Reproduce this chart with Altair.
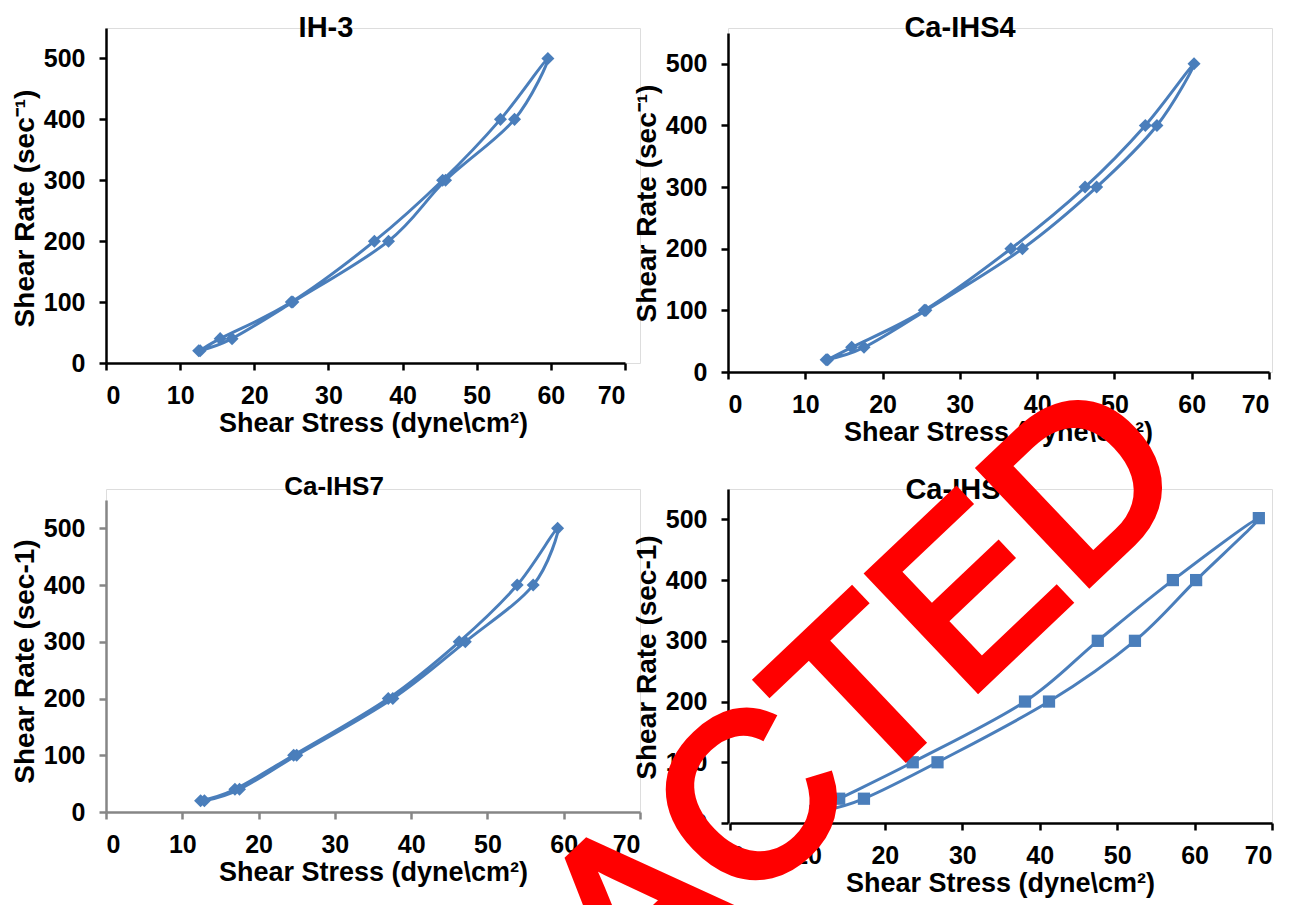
import altair as alt
import pandas as pd

# ---- data ----
PANELS = ["IH-3", "Ca-IHS4", "Ca-IHS7", "Ca-IHS8"]
RATE = [20, 40, 100, 200, 300, 400, 500, 400, 300, 200, 100, 40, 20]
RATE_IHS8 = [20, 40, 100, 200, 300, 400, 502, 400, 300, 200, 100, 40, 20]
STRESS_IH3 = [12.7, 15.4, 25.0, 36.2, 45.4, 53.2, 59.6, 55.1, 45.8, 38.1, 25.2, 17.0, 12.5]
STRESS_IHS4 = [12.9, 16.0, 25.4, 36.6, 46.2, 54.0, 60.3, 55.5, 47.7, 38.1, 25.6, 17.6, 12.7]
STRESS_IHS7 = [12.4, 16.9, 24.6, 37.0, 46.3, 53.9, 59.2, 56.0, 47.1, 37.6, 25.0, 17.5, 12.9]
STRESS_IHS8 = [11.0, 14.1, 23.6, 38.1, 47.5, 57.2, 68.3, 60.2, 52.3, 41.2, 26.8, 17.3, 12.0]
X_TICKS = [0, 10, 20, 30, 40, 50, 60, 70]
Y_TICKS = [0, 100, 200, 300, 400, 500]
X_TITLE = "Shear Stress (dyne\\cm\u00b2)"
Y_TITLE_SUP = "Shear Rate (sec\u207b\u00b9)"
Y_TITLE_PLAIN = "Shear Rate (sec-1)"
WATERMARK = ["REDACTED"]

BLUE = "#4A7EBB"
FONT = "Liberation Sans"


def panel(name, stress, rate, shape, size, ytitle, axis_color, width, height,
          xrange, yrange, title_size, title_x, title_y, ytitle_y, xtitle_x, extra=None):
    df = pd.DataFrame({"stress": stress, "rate": rate, "step": list(range(len(stress)))})
    x = alt.X(
        "stress:Q",
        scale=alt.Scale(domain=[0, 70], range=xrange, nice=False, zero=True),
        axis=alt.Axis(values=X_TICKS, title=X_TITLE, grid=False,
                      domainColor=axis_color, tickColor=axis_color,
                      domainWidth=2.5, tickWidth=2.5, tickSize=7,
                      labelPadding=13, labelFontSize=25, labelFont=FONT,
                      labelFontWeight="bold", labelColor="black",
                      titleFontSize=27, titleFont=FONT, titleFontWeight="bold",
                      titleColor="black", titlePadding=2, titleX=xtitle_x),
    )
    y = alt.Y(
        "rate:Q",
        scale=alt.Scale(domain=[0, 550], range=yrange, nice=False, zero=True),
        axis=alt.Axis(values=Y_TICKS, title=ytitle, grid=False,
                      domainColor=axis_color, tickColor=axis_color,
                      domainWidth=2.5, tickWidth=2.5, tickSize=7,
                      labelPadding=14, labelFontSize=25, labelFont=FONT,
                      labelFontWeight="bold", labelColor="black",
                      titleFontSize=28, titleFont=FONT, titleFontWeight="bold",
                      titleColor="black", titlePadding=4, titleY=ytitle_y),
    )
    base = alt.Chart(df)
    line = base.mark_line(color=BLUE, strokeWidth=3, interpolate="cardinal").encode(
        x=x, y=y, order=alt.Order("step:Q"))
    pts = base.mark_point(shape=shape, filled=True, size=size, color=BLUE, opacity=1).encode(
        x=x, y=y)
    title = alt.Chart(pd.DataFrame({"name": [name]})).mark_text(
        font=FONT, fontSize=title_size, fontWeight="bold", color="black",
        align="center", baseline="alphabetic",
    ).encode(text="name:N", x=alt.value(title_x), y=alt.value(title_y))
    layers = [line, pts, title]
    if extra is not None:
        layers.append(extra)
    return alt.layer(*layers).properties(width=width, height=height)


watermark = alt.Chart(pd.DataFrame({"t": WATERMARK})).mark_text(
    font=FONT, fontSize=230, color="#FF0000", stroke="#FF0000", strokeWidth=8,
    angle=316.5, align="center", baseline="middle",
).encode(text="t:N", x=alt.value(-38), y=alt.value(378))

p1 = panel(PANELS[0], STRESS_IH3, RATE, "diamond", 170, Y_TITLE_SUP, "black",
           534, 335, [0, 519], [335, 0], 29, 220, 9, 180, 267)
p2 = panel(PANELS[1], STRESS_IHS4, RATE, "diamond", 170, Y_TITLE_SUP, "black",
           544, 344, [0, 541], [344, 5], 29, 232, 9, 175, 270)
p3 = panel(PANELS[2], STRESS_IHS7, RATE, "diamond", 170, Y_TITLE_PLAIN, "#868686",
           534, 323, [0, 534], [323, 11], 26, 228, 6, 172, 267)
p4 = panel(PANELS[3], STRESS_IHS8, RATE_IHS8, "square", 150, Y_TITLE_PLAIN, "black",
           544, 334, [2, 544], [334, 0], 29, 233, 10, 168, 272, extra=watermark)

chart = alt.ConcatChart(
    concat=[p1, p2, p3, p4], columns=2,
    spacing=alt.RowColnumber(row=117, column=88),
    bounds="flush",
    padding={"left": 2, "top": 5, "right": 5, "bottom": 5},
).configure_view(stroke=None).configure(background="white")

chart.save("out.html", embed_options={"renderer": "svg", "actions": False})
